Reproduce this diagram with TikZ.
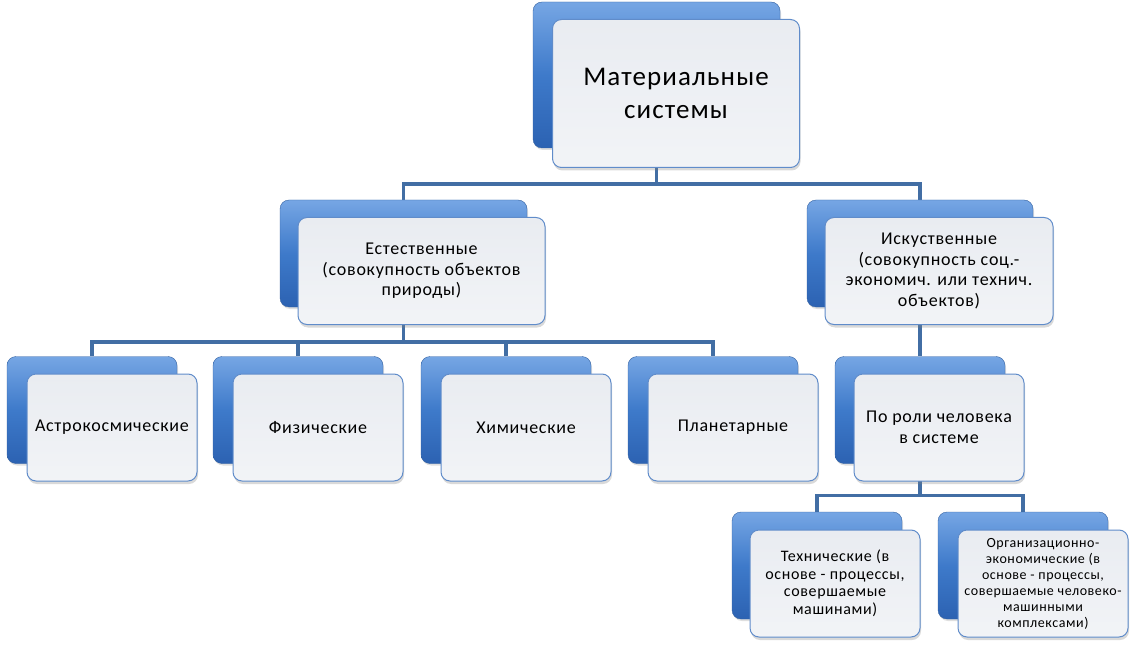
\documentclass[tikz,border=0pt]{standalone}
\usepackage{fontspec}
\setmainfont{Carlito}[LetterSpace=4]
\usepackage{xcolor}
\usetikzlibrary{shadows,backgrounds}
\definecolor{box-blue-light}{RGB}{118,166,228}
\definecolor{box-blue-mid}{RGB}{62,122,202}
\definecolor{box-blue-dark}{RGB}{44,98,178}
\definecolor{box-edge}{RGB}{52,98,162}
\definecolor{card-fill}{RGB}{233,236,241}
\definecolor{card-edge}{RGB}{96,140,202}
\definecolor{link-blue}{RGB}{66,110,164}
\tikzset{
    back-box/.style = {draw=box-edge, thin, rectangle, rounded corners=9pt, top color=box-blue-light, bottom color=box-blue-dark, middle color=box-blue-mid, drop shadow={opacity=0.25, shadow xshift=1pt, shadow yshift=-2pt}},
    front-box/.style = {draw=card-edge, line width=1pt, rectangle, rounded corners=9pt, top color=card-fill, bottom color=card-fill!60!white, align=center, drop shadow={opacity=0.3, shadow xshift=1pt, shadow yshift=-3pt}},
    small-box/.style = {minimum width=170pt, minimum height=107pt},
    link/.style = {draw=link-blue, line width=3.5pt},
}

\begin{document}
\begin{tikzpicture}[x=1pt, y=-1pt, font=\fontsize{18}{20.5}\selectfont]
\useasboundingbox (0,0) rectangle (1135,647);

\node[back-box, minimum width=247pt, minimum height=146pt] (top-b) at (656.5,75) {};
\node[front-box, minimum width=247pt, minimum height=148pt, font=\fontsize{27}{33}\selectfont] (top) at (676,93.5) {Материальные\\системы};

\node[back-box, minimum width=247pt, minimum height=107pt] (nat-b) at (403.5,253.5) {};
\node[front-box, minimum width=247pt, minimum height=107pt] (nat) at (421.5,271) {Естественные\\(совокупность объектов\\природы)};

\node[back-box, minimum width=226pt, minimum height=107pt] (art-b) at (920,253.5) {};
\node[front-box, minimum width=228pt, minimum height=107pt] (art) at (939,271) {Искуственные\\(совокупность соц.-\\экономич. или технич.\\объектов)};

\node[back-box, small-box] (astro-b) at (92,410) {};
\node[front-box, small-box] (astro) at (112,427.5) {Астрокосмические};

\node[back-box, small-box] (phys-b) at (298,410) {};
\node[front-box, small-box] (phys) at (318,427.5) {Физические};

\node[back-box, small-box] (chem-b) at (506,410) {};
\node[front-box, small-box] (chem) at (526,427.5) {Химические};

\node[back-box, small-box] (plan-b) at (713,410) {};
\node[front-box, small-box] (plan) at (733,427.5) {Планетарные};

\node[back-box, small-box] (role-b) at (920,410) {};
\node[front-box, small-box] (role) at (939,427.5) {По роли человека\\в системе};

\node[back-box, small-box] (tech-b) at (817,565.5) {};
\node[front-box, small-box, font=\fontsize{16}{17.5}\selectfont] (tech) at (835,583.5) {Технические (в\\основе - процессы,\\совершаемые\\машинами)};

\node[back-box, small-box] (org-b) at (1023,565.5) {};
\node[front-box, small-box, font=\fontsize{14}{16}\selectfont] (org) at (1043,583.5) {Организационно-\\экономические (в\\основе - процессы,\\совершаемые человеко-\\машинными\\комплексами)};

\begin{scope}[on background layer]
\draw[link] (top-b.south) -- ++(0,36) -| (nat-b.north);
\draw[link] (top-b.south) -- ++(0,36) -| (art-b.north);
\foreach \n in {astro,phys,chem,plan}
    \draw[link] (nat-b.south) -- ++(0,35) -| (\n-b.north);
\draw[link] (art-b.south) -- (role-b.north);
\draw[link] (role-b.south) -- ++(0,32) -| (tech-b.north);
\draw[link] (role-b.south) -- ++(0,32) -| (org-b.north);
\end{scope}
\end{tikzpicture}
\end{document}
